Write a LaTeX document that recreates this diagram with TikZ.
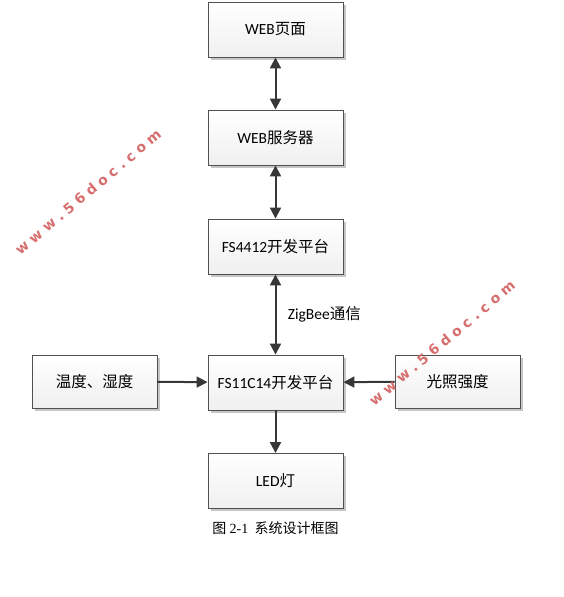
\documentclass[tikz,border=0pt]{standalone}
\usepackage{fontspec}
\setmainfont{Carlito}
\newfontfamily\cjk{Noto Sans CJK SC}
\newfontfamily\capserif{Liberation Serif}
\newfontfamily\wmfont{DejaVu Sans}
\usetikzlibrary{arrows.meta,shadows}
\definecolor{bordergray}{RGB}{80,80,80}
\definecolor{arrowgray}{RGB}{55,55,55}
\definecolor{wmred}{RGB}{215,110,110}
\tikzset{
  box/.style={draw=bordergray, line width=0.9pt, minimum width=135pt, minimum height=55pt,
    top color=white, bottom color=gray!12, inner sep=0pt,
    drop shadow={shadow xshift=2.5pt, shadow yshift=-2.5pt, fill=gray!45, opacity=1},
    font=\fontsize{15.5}{18}\selectfont},
  sbox/.style={box, minimum width=125pt, minimum height=53pt},
  conn/.style={draw=arrowgray, line width=2pt},
  tip/.style={-{Triangle[length=11pt,width=11pt]}},
  dtip/.style={{Triangle[length=11pt,width=11pt]}-{Triangle[length=11pt,width=11pt]}},
  wm/.style={text=wmred, font=\wmfont\bfseries\fontsize{14}{14}\selectfont, rotate=40, inner sep=0pt}
}
\begin{document}
\begin{tikzpicture}[x=1pt,y=-1pt]
\useasboundingbox (0,0) rectangle (564,597);
\node[box] (web) at (275.5,29.5) {WEB{\cjk 页面}};
\node[box] (srv) at (275.5,137.5) {WEB{\cjk 服务器}};
\node[box] (fs44) at (275.5,246.5) {FS4412{\cjk 开发平台}};
\node[box] (fs11) at (275.5,382.5) {FS11C14{\cjk 开发平台}};
\node[box] (led) at (275.5,481) {LED{\cjk 灯}};
\node[sbox] (temp) at (94.5,381.5) {{\cjk 温度、湿度}};
\node[sbox] (light) at (457.5,381.5) {{\cjk 光照强度}};
\draw[conn,dtip] (web) -- (srv);
\draw[conn,dtip] (srv) -- (fs44);
\draw[conn,dtip] (fs44) -- node[right=8pt, font=\fontsize{15.5}{18}\selectfont, text=black] (zb) {ZigBee{\cjk 通信}} (fs11);
\draw[conn,tip] (fs11) -- (led);
\draw[conn,tip] (temp) -- (fs11);
\draw[conn,tip] (light) -- (fs11);
\node[font=\fontsize{14}{16}\selectfont] (cap) at (275.5,528) {{\cjk 图} {\capserif 2-1}\ \ {\cjk 系统设计框图}};
\node[wm] (wm1) at (88,192) {w\,\,w\,\,w\,\,.\,\,5\,\,6\,\,d\,\,o\,\,c\,\,.\,\,c\,\,o\,\,m};
\node[wm] (wm2) at (442,343) {w\,\,w\,\,w\,\,.\,\,5\,\,6\,\,d\,\,o\,\,c\,\,.\,\,c\,\,o\,\,m};
\end{tikzpicture}
\end{document}
